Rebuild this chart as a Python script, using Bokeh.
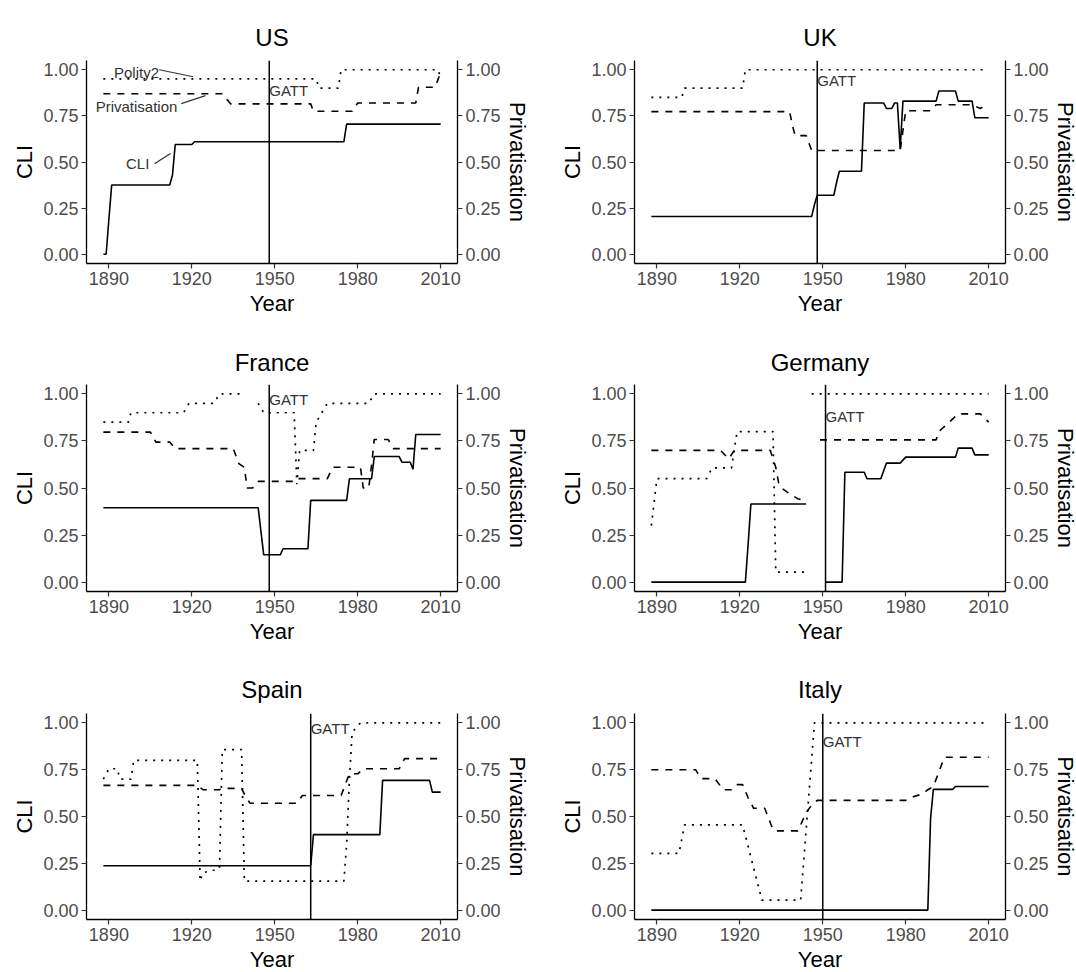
from bokeh.plotting import figure
from bokeh.layouts import gridplot
from bokeh.models import Range1d, LinearAxis, FixedTicker, NumeralTickFormatter, Span
from bokeh.core.properties import value
from bokeh.embed import file_html
from bokeh.resources import INLINE

nan = float("nan")

countries = ["US", "UK", "France", "Germany", "Spain", "Italy"]
gatt_years = [1948, 1948, 1948, 1951, 1963, 1950]
gatt_label_y = [0.89, 0.94, 0.97, 0.88, 0.97, 0.90]
x_ticks = [1890, 1920, 1950, 1980, 2010]
y_ticks = [0.0, 0.25, 0.5, 0.75, 1.0]

# ---- US ----
us_cli_x = [1888, 1889, 1890, 1891, 1912, 1913, 1914, 1920, 1921, 1975, 1976, 2010]
us_cli_y = [0.0, 0.0, 0.19, 0.375, 0.375, 0.43, 0.595, 0.595, 0.61, 0.61, 0.705, 0.705]
us_priv_x = [1888, 1931, 1934, 1963, 1964, 1978, 1980, 2001, 2002, 2008, 2010]
us_priv_y = [0.87, 0.87, 0.815, 0.815, 0.775, 0.775, 0.82, 0.82, 0.905, 0.905, 0.985]
us_pol_x = [1888, 1965, 1966, 1973, 1974, 2009, 2010]
us_pol_y = [0.95, 0.95, 0.90, 0.90, 1.0, 1.0, 0.96]

# ---- UK ----
uk_cli_x = [1888, 1946, 1947, 1948, 1954, 1955, 1956, 1964, 1965, 1972, 1973, 1975, 1976,
            1977, 1978, 1979, 1991, 1992, 1998, 1999, 2004, 2005, 2010]
uk_cli_y = [0.205, 0.205, 0.27, 0.32, 0.32, 0.39, 0.45, 0.45, 0.82, 0.82, 0.79, 0.79, 0.82,
            0.82, 0.57, 0.83, 0.83, 0.885, 0.885, 0.83, 0.83, 0.74, 0.74]
uk_priv_x = [1888, 1938, 1939, 1940, 1944, 1946, 1978, 1980, 1989, 1991, 2004, 2007, 2008, 2010]
uk_priv_y = [0.773, 0.773, 0.70, 0.643, 0.643, 0.562, 0.562, 0.778, 0.778, 0.81, 0.81, 0.79, 0.80, 0.80]
uk_pol_x = [1888, 1899, 1900, 1921, 1922, 2010]
uk_pol_y = [0.85, 0.85, 0.90, 0.90, 1.0, 1.0]

# ---- France ----
fr_cli_x = [1888, 1944, 1945, 1946, 1952, 1953, 1962, 1963, 1976, 1977, 1985, 1986,
            1995, 1996, 1999, 2000, 2001, 2010]
fr_cli_y = [0.395, 0.395, 0.27, 0.145, 0.145, 0.177, 0.177, 0.434, 0.434, 0.549, 0.549, 0.667,
            0.667, 0.637, 0.637, 0.60, 0.784, 0.784]
fr_priv_x = [1888, 1905, 1907, 1912, 1914, 1935, 1937, 1939, 1940, 1942, 1944, 1957, 1958, 1969,
             1971, 1981, 1982, 1984, 1985, 1986, 1991, 1993, 2010]
fr_priv_y = [0.797, 0.797, 0.744, 0.744, 0.709, 0.709, 0.63, 0.61, 0.50, 0.50, 0.535, 0.535, 0.55,
             0.55, 0.61, 0.61, 0.50, 0.50, 0.62, 0.758, 0.758, 0.709, 0.709]
fr_pol_x = [1888, 1897, 1898, 1917, 1919, 1928, 1930, 1939, nan, 1944, 1946, 1957, 1958, 1959,
            1964, 1965, 1967, 1969, 1984, 1986, 2010]
fr_pol_y = [0.85, 0.85, 0.90, 0.90, 0.95, 0.95, 1.0, 1.0, nan, 0.95, 0.90, 0.90, 0.52, 0.70,
            0.70, 0.85, 0.90, 0.95, 0.95, 1.0, 1.0]

# ---- Germany ----
de_cli_x = [1888, 1922, 1923, 1924, 1944, nan, 1951, 1957, 1958, 1965, 1966, 1971, 1973,
            1978, 1980, 1998, 1999, 2004, 2005, 2010]
de_cli_y = [0.0, 0.0, 0.2, 0.415, 0.415, nan, 0.0, 0.0, 0.584, 0.584, 0.549, 0.549, 0.632,
            0.632, 0.664, 0.664, 0.712, 0.712, 0.676, 0.676]
de_priv_x = [1888, 1913, 1916, 1918, 1931, 1933, 1934, 1935, 1939, 1941, 1944, nan, 1949, 1991,
             1992, 1995, 1999, 2007, 2010]
de_priv_y = [0.70, 0.70, 0.655, 0.70, 0.70, 0.61, 0.53, 0.50, 0.46, 0.443, 0.43, nan, 0.756, 0.756,
             0.80, 0.84, 0.894, 0.894, 0.85]
de_pol_x = [1888, 1890, 1908, 1910, 1917, 1919, 1932, 1933, 1944, nan, 1946, 2010]
de_pol_y = [0.30, 0.55, 0.55, 0.607, 0.607, 0.80, 0.80, 0.053, 0.053, nan, 1.0, 1.0]

# ---- Spain ----
es_cli_x = [1888, 1963, 1964, 1988, 1989, 2006, 2007, 2010]
es_cli_y = [0.237, 0.237, 0.403, 0.403, 0.693, 0.693, 0.63, 0.63]
es_priv_x = [1888, 1922, 1924, 1930, 1931, 1938, 1939, 1941, 1958, 1960, 1974, 1977, 1980, 1982,
             1995, 1997, 2009]
es_priv_y = [0.666, 0.666, 0.643, 0.643, 0.65, 0.65, 0.62, 0.571, 0.571, 0.612, 0.612, 0.728,
             0.728, 0.755, 0.755, 0.809, 0.809]
es_pol_x = [1888, 1890, 1893, 1894, 1898, 1899, 1922, 1923, 1924, 1930, 1931, 1938, 1939, 1975,
            1976, 1977, 1978, 1981, 2010]
es_pol_y = [0.70, 0.755, 0.755, 0.70, 0.70, 0.80, 0.80, 0.155, 0.20, 0.22, 0.857, 0.857, 0.155,
            0.155, 0.35, 0.70, 0.95, 1.0, 1.0]

# ---- Italy ----
it_cli_x = [1888, 1988, 1989, 1990, 1997, 1998, 2010]
it_cli_y = [0.0, 0.0, 0.49, 0.645, 0.645, 0.66, 0.66]
it_priv_x = [1888, 1904, 1906, 1911, 1914, 1917, 1919, 1921, 1923, 1925, 1929, 1932, 1933, 1941,
             1944, 1946, 1948, 1980, 1983, 1986, 1988, 1990, 1994, 2010]
it_priv_y = [0.75, 0.75, 0.702, 0.702, 0.643, 0.643, 0.67, 0.67, 0.60, 0.544, 0.544, 0.43, 0.423,
             0.423, 0.52, 0.562, 0.586, 0.586, 0.607, 0.62, 0.643, 0.66, 0.816, 0.816]
it_pol_x = [1888, 1898, 1900, 1921, 1928, 1942, 1947, 2010]
it_pol_y = [0.303, 0.303, 0.455, 0.455, 0.053, 0.053, 1.0, 1.0]

series = [
    (us_cli_x, us_cli_y, us_priv_x, us_priv_y, us_pol_x, us_pol_y),
    (uk_cli_x, uk_cli_y, uk_priv_x, uk_priv_y, uk_pol_x, uk_pol_y),
    (fr_cli_x, fr_cli_y, fr_priv_x, fr_priv_y, fr_pol_x, fr_pol_y),
    (de_cli_x, de_cli_y, de_priv_x, de_priv_y, de_pol_x, de_pol_y),
    (es_cli_x, es_cli_y, es_priv_x, es_priv_y, es_pol_x, es_pol_y),
    (it_cli_x, it_cli_y, it_priv_x, it_priv_y, it_pol_x, it_pol_y),
]

# US series labels (repelled labels with leader lines)
us_label_text = ["Polity2", "Privatisation", "CLI"]
us_label_x = [1900.0, 1900.0, 1900.4]
us_label_y = [0.985, 0.80, 0.49]
us_leader_x0 = [1908.2, 1916.2, 1906.5]
us_leader_y0 = [1.0, 0.816, 0.49]
us_leader_x1 = [1920.5, 1924.9, 1912.3]
us_leader_y1 = [0.962, 0.86, 0.546]

FONT = "Liberation Sans"
col_left = [86, 96]
col_right = [81, 71]
row_top = [60, 60, 65]
row_frame = [203, 207, 206]
row_bottom = [61, 57, 53]
row_title_standoff = [19, 18, 22]


def style_axis(ax):
    ax.axis_line_color = "black"
    ax.axis_line_width = 1.3
    ax.major_tick_line_color = "#333333"
    ax.major_tick_line_width = 1.2
    ax.major_tick_out = 5
    ax.major_tick_in = 0
    ax.minor_tick_line_color = None
    ax.major_label_text_font = FONT
    ax.major_label_text_font_size = "18px"
    ax.major_label_text_color = "#4d4d4d"
    ax.major_label_standoff = 3
    ax.axis_label_text_font = FONT
    ax.axis_label_text_font_size = "22px"
    ax.axis_label_text_font_style = "normal"
    ax.axis_label_text_color = "black"
    ax.axis_label_standoff = 3


figs = []
for i, name in enumerate(countries):
    r, c = divmod(i, 2)
    p = figure(frame_width=371, frame_height=row_frame[r],
               x_range=Range1d(1881.9, 2016.1), y_range=Range1d(-0.05, 1.05),
               output_backend="svg", toolbar_location=None, title=name,
               min_border_left=col_left[c], min_border_right=col_right[c],
               min_border_top=row_top[r], min_border_bottom=row_bottom[r])
    p.outline_line_color = None
    p.xgrid.visible = False
    p.ygrid.visible = False
    p.background_fill_color = "white"
    p.border_fill_color = "white"
    p.title.text_font = FONT
    p.title.text_font_size = "24px"
    p.title.text_font_style = "normal"
    p.title.align = "center"
    p.title.text_color = "black"
    p.title.standoff = row_title_standoff[r]

    p.extra_y_ranges = {"priv": Range1d(-0.05, 1.05)}
    right = LinearAxis(y_range_name="priv", axis_label="Privatisation")
    p.add_layout(right, "right")

    p.xaxis[0].ticker = FixedTicker(ticks=x_ticks)
    p.xaxis[0].axis_label = "Year"
    p.yaxis[0].axis_label = "CLI"
    for ax in (p.yaxis[0], right):
        ax.ticker = FixedTicker(ticks=y_ticks)
        ax.formatter = NumeralTickFormatter(format="0.00")
    for ax in (p.xaxis[0], p.yaxis[0], right):
        style_axis(ax)
    right.axis_label_standoff = 1

    cx, cy, px_, py_, qx, qy = series[i]
    p.line(qx, qy, line_color="black", line_width=1.7, line_dash="2 6")
    p.line(px_, py_, line_color="black", line_width=1.6, line_dash="7 7")
    p.line(cx, cy, line_color="black", line_width=1.6)

    p.add_layout(Span(location=gatt_years[i], dimension="height",
                      line_color="black", line_width=1.5))
    p.text(x=[gatt_years[i]], y=[gatt_label_y[i]], text=["GATT"],
           text_font=value(FONT), text_font_size="15px", text_color="#333333",
           text_align="left", text_baseline="middle")

    if name == "US":
        p.segment(x0=us_leader_x0, y0=us_leader_y0, x1=us_leader_x1, y1=us_leader_y1,
                  line_color="#333333", line_width=1.2)
        p.text(x=us_label_x, y=us_label_y, text=us_label_text,
               text_font=value(FONT), text_font_size="15px", text_color="#333333",
               text_align="center", text_baseline="middle")
    figs.append(p)

grid = gridplot(figs, ncols=2, toolbar_location=None)
open("out.html", "w").write(file_html(grid, INLINE))
